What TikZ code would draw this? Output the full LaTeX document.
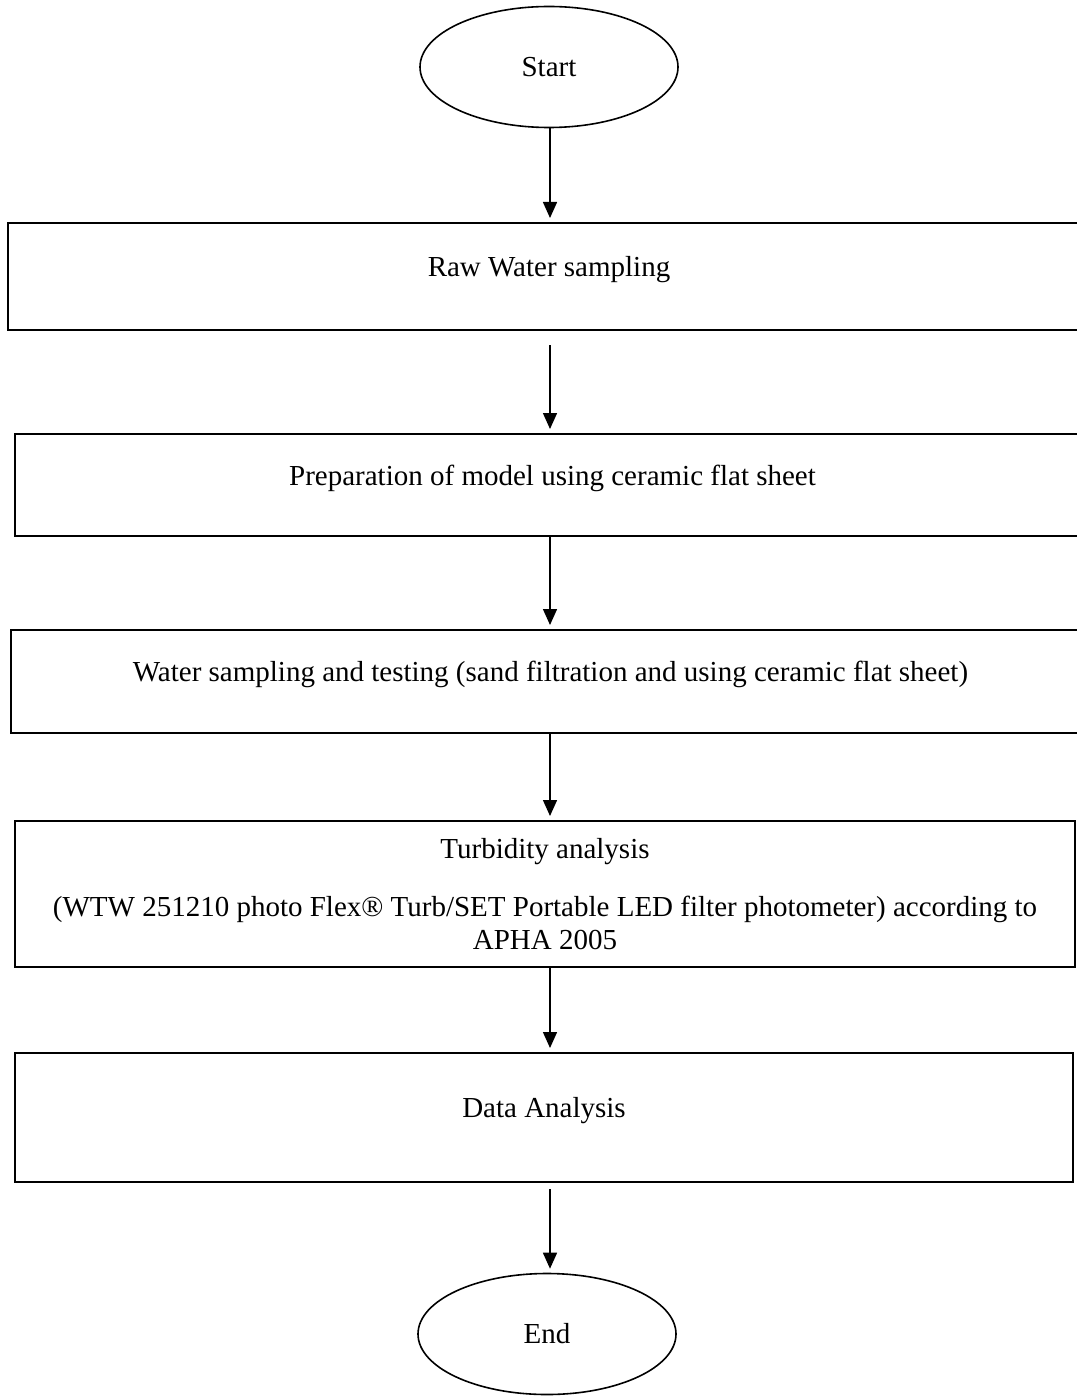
\documentclass[tikz,border=0pt]{standalone}
\usepackage{fontspec}
\setmainfont{Liberation Serif}
\usetikzlibrary{arrows.meta,shapes.geometric}

\tikzset{
every picture/.style={
line width=1pt
}}

\begin{document}
\begin{tikzpicture}[x=0.5pt, y=-0.5pt, font=\fontsize{14.5}{16.7}\selectfont,
block/.style = {rectangle, draw=black, line width=1pt, inner sep=0pt, align=center, text height=9pt, text depth=9pt},
bigblock/.style = {rectangle, draw=black, line width=1pt, inner sep=0pt, align=center},
term/.style = {ellipse, draw=black, line width=0.8pt, inner sep=0pt, minimum width=129pt, minimum height=60.5pt},
flow/.style = {-{Triangle[length=8pt,width=7pt]}, line width=0.75pt, shorten >=2pt}]
\useasboundingbox (0,0) rectangle (1076,1396);

\node[term] at (549,67) (start) {Start};
\node[block, minimum width=541pt, minimum height=53.5pt] at (549,276.5) (raw) {Raw Water sampling};
\node[block, minimum width=537.5pt, minimum height=51pt] at (552.5,485) (prep) {Preparation of model using ceramic flat sheet};
\node[block, minimum width=539.5pt, minimum height=51.5pt] at (550.5,681.5) (test) {Water sampling and testing (sand filtration and using ceramic flat sheet)};
\node[bigblock, minimum width=530pt, minimum height=73pt] at (545,894) (turb) {Turbidity analysis\\[12.3pt]
  (WTW 251210 photo Flex® Turb/SET Portable LED filter photometer) according to\\APHA 2005};
\node[block, minimum width=529pt, minimum height=64.5pt] at (544,1117.5) (data) {Data Analysis};
\node[term] at (547,1334) (end) {End};

\draw[flow] (start.south -| 550,0) -- (raw.north -| 550,0);
\draw[flow, shorten <=7pt] (raw.south -| 550,0) -- (prep.north -| 550,0);
\draw[flow] (prep.south -| 550,0) -- (test.north -| 550,0);
\draw[flow] (test.south -| 550,0) -- (turb.north -| 550,0);
\draw[flow] (turb.south -| 550,0) -- (data.north -| 550,0);
\draw[flow, shorten <=3pt] (data.south -| 550,0) -- (end.north -| 550,0);
\end{tikzpicture}
\end{document}
